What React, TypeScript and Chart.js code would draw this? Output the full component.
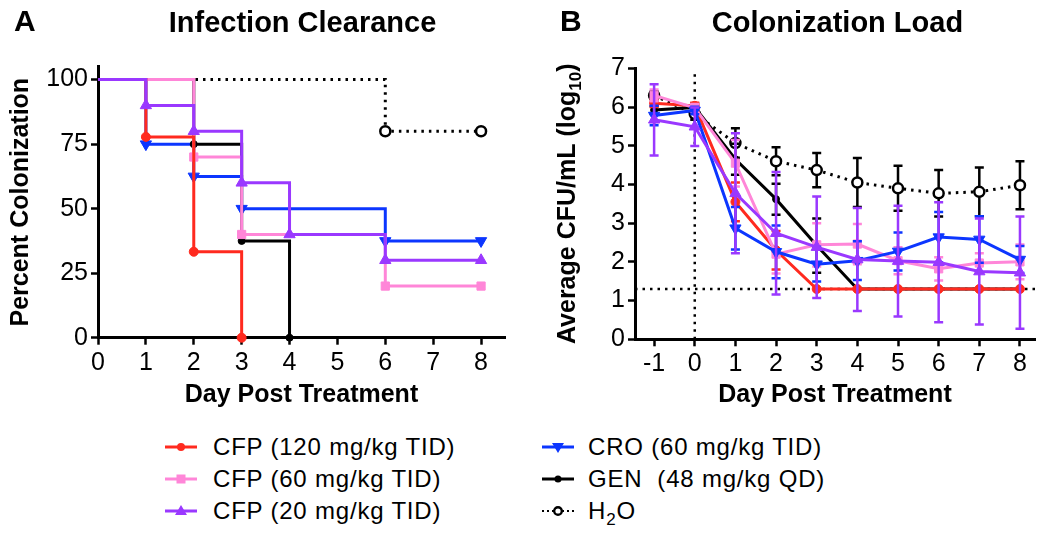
import React, { useEffect, useRef } from 'react';
import { Chart, registerables } from 'chart.js';

Chart.register(...registerables);

const FONT = "'Liberation Sans', Arial, Helvetica, sans-serif";

// ---------- Panel A : Infection Clearance (percent still colonized) ----------
const clearRedDays = [0, 1, 2, 3];
const clearRed = [100, 77.8, 33.3, 0];
const clearPinkDays = [0, 2, 3, 6, 8];
const clearPink = [100, 70, 40, 20, 20];
const clearPurpleDays = [0, 1, 2, 3, 4, 6, 8];
const clearPurple = [100, 90, 80, 60, 40, 30, 30];
const clearBlueDays = [0, 1, 2, 3, 6, 8];
const clearBlue = [100, 75, 62.5, 50, 37.5, 37.5];
const clearBlackDays = [0, 2, 3, 4];
const clearBlack = [100, 75, 37.5, 0];
const clearWaterDays = [0, 6, 8];
const clearWater = [100, 80, 80];
const ticksAX = [0, 1, 2, 3, 4, 5, 6, 7, 8];
const ticksAY = [0, 25, 50, 75, 100];

// ---------- Panel B : Colonization Load (log10 CFU/mL, mean ± SD) ----------
const loadDays = [-1, 0, 1, 2, 3, 4, 5, 6, 7, 8];
const loadRed = [6.1, 6.03, 3.55, 2.3, 1.3, 1.3, 1.3, 1.3, 1.3, 1.3];
const errRed = [0.1, 0.08, 0.5, 0.5, 0, 0, 0, 0, 0, 0];
const loadPink = [6.3, 5.98, 4.55, 2.2, 2.44, 2.46, 2.03, 1.82, 1.97, 2.0];
const errPink = [0.15, 0.1, 0.6, 0.5, 0.56, 0.52, 0.35, 0.3, 0.25, 0.45];
const loadPurple = [5.67, 5.49, 3.77, 2.74, 2.38, 2.06, 2.02, 1.99, 1.75, 1.72];
const errPurple = [0.92, 0.5, 1.55, 1.58, 1.31, 1.33, 1.43, 1.55, 1.37, 1.45];
const loadBlue = [5.78, 5.91, 2.87, 2.26, 1.94, 2.03, 2.27, 2.64, 2.58, 2.06];
const errBlue = [0.25, 0.1, 0.55, 0.68, 0.45, 0.5, 0.49, 0.65, 0.6, 0.35];
const loadBlack = [5.92, 5.99, 4.65, 3.62, 2.42, 1.3, 1.3, 1.3, 1.3, 1.3];
const errBlack = [0.1, 0.1, 0.4, 0.4, 0.7, 0, 0, 0, 0, 0];
const loadWater = [6.3, 5.82, 5.07, 4.6, 4.37, 4.05, 3.9, 3.77, 3.81, 3.98];
const errWater = [0.1, 0.15, 0.38, 0.36, 0.44, 0.63, 0.58, 0.6, 0.63, 0.62];
const detectionLimit = 1.3;
const treatmentStartDay = 0;
const ticksBX = [-1, 0, 1, 2, 3, 4, 5, 6, 7, 8];
const ticksBY = [0, 1, 2, 3, 4, 5, 6, 7];

const RED = '#ff2a1f';
const PINK = '#ff86d8';
const PURPLE = '#9a38ff';
const BLUE = '#0c36ff';
const BLACK = '#000000';

const labels = {
  red: 'CFP (120 mg/kg TID)',
  pink: 'CFP (60 mg/kg TID)',
  purple: 'CFP (20 mg/kg TID)',
  blue: 'CRO (60 mg/kg TID)',
  black: 'GEN  (48 mg/kg QD)',
  water: 'H2O',
};

const pts = (xs: number[], ys: number[]) => xs.map((x, i) => ({ x, y: ys[i] }));

type Style = { color: string; style: string; radius: number; rotation?: number; fill?: string; dash?: number[]; bw?: number };
const styles: Record<string, Style> = {
  red: { color: RED, style: 'circle', radius: 4.5 },
  pink: { color: PINK, style: 'rect', radius: 5.8 },
  purple: { color: PURPLE, style: 'triangle', radius: 6.5 },
  blue: { color: BLUE, style: 'triangle', radius: 6.5, rotation: 180 },
  black: { color: BLACK, style: 'circle', radius: 3.5 },
  water: { color: BLACK, style: 'circle', radius: 5, fill: '#ffffff', dash: [2.5, 5], bw: 2.5 },
};

function makeDataset(key: string, data: { x: number; y: number }[], extra: any = {}) {
  const s = styles[key];
  return {
    label: labels[key as keyof typeof labels],
    data,
    borderColor: s.color,
    backgroundColor: s.color,
    borderWidth: 3,
    borderDash: s.dash || [],
    pointStyle: s.style,
    pointRotation: s.rotation || 0,
    pointRadius: s.radius,
    pointBackgroundColor: s.fill || s.color,
    pointBorderColor: s.color,
    pointBorderWidth: s.bw || 1,
    tension: 0,
    clip: false,
    ...extra,
  };
}

function axis(min: number, max: number, ticks: number[], title: any, fit: (s: any) => void) {
  return {
    type: 'linear',
    min,
    max,
    afterBuildTicks: (s: any) => {
      s.ticks = ticks.map((v) => ({ value: v }));
    },
    afterFit: fit,
    border: { display: true, color: '#000', width: 3 },
    grid: {
      display: true,
      drawOnChartArea: false,
      drawTicks: true,
      tickLength: 7,
      tickWidth: 2.5,
      tickColor: '#000',
      color: '#000',
    },
    ticks: {
      color: '#000',
      font: { family: FONT, size: 25 },
      padding: 3,
      maxRotation: 0,
      autoSkip: false,
      callback: (v: any) => String(v),
    },
    title,
  };
}

const errorBarPlugin = {
  id: 'errorBars',
  beforeDatasetDraw(chart: any, args: any) {
    const ds = chart.data.datasets[args.index];
    const errs: number[] | undefined = ds.errors;
    if (!errs) return;
    const ctx = chart.ctx;
    const xs = chart.scales.x;
    const ys = chart.scales.y;
    ctx.save();
    ctx.strokeStyle = ds.borderColor;
    ctx.lineWidth = 2.5;
    ctx.setLineDash([]);
    ds.data.forEach((p: any, i: number) => {
      const e = errs[i];
      if (!e) return;
      const x = xs.getPixelForValue(p.x);
      const yt = ys.getPixelForValue(p.y + e);
      const yb = ys.getPixelForValue(p.y - e);
      ctx.beginPath();
      ctx.moveTo(x, yt);
      ctx.lineTo(x, yb);
      ctx.moveTo(x - 4.5, yt);
      ctx.lineTo(x + 4.5, yt);
      ctx.moveTo(x - 4.5, yb);
      ctx.lineTo(x + 4.5, yb);
      ctx.stroke();
    });
    ctx.restore();
  },
};

const yTitleBPlugin = {
  id: 'yTitleB',
  afterDraw(chart: any) {
    const ctx = chart.ctx;
    const area = chart.chartArea;
    const main = 'Average CFU/mL (log';
    const sub = '10';
    const end = ')';
    const f1 = `bold 25px ${FONT}`;
    const f2 = `bold 17px ${FONT}`;
    ctx.save();
    ctx.translate(49.5, (area.top + area.bottom) / 2);
    ctx.rotate(-Math.PI / 2);
    ctx.fillStyle = '#000';
    ctx.textBaseline = 'alphabetic';
    ctx.textAlign = 'left';
    ctx.font = f1;
    const w1 = ctx.measureText(main).width;
    const w3 = ctx.measureText(end).width;
    ctx.font = f2;
    const w2 = ctx.measureText(sub).width;
    const x0 = -(w1 + w2 + w3) / 2;
    ctx.font = f1;
    ctx.fillText(main, x0, 0);
    ctx.font = f2;
    ctx.fillText(sub, x0 + w1, 6);
    ctx.font = f1;
    ctx.fillText(end, x0 + w1 + w2, 0);
    ctx.restore();
  },
};

const baseOptions = {
  animation: false,
  responsive: false,
  devicePixelRatio: 1,
  events: [],
  plugins: { legend: { display: false }, tooltip: { enabled: false }, title: { display: false } },
};

function PanelA() {
  const ref = useRef<HTMLCanvasElement>(null);
  useEffect(() => {
    const noFirst = (n: number, r: number) => Array.from({ length: n }, (_, i) => (i === 0 ? 0 : r));
    const mk = (key: string, xs: number[], ys: number[]) =>
      makeDataset(key, pts(xs, ys), { stepped: true, pointRadius: noFirst(xs.length, styles[key].radius) });
    const chart = new Chart(ref.current as HTMLCanvasElement, {
      type: 'line',
      data: {
        datasets: [
          mk('purple', clearPurpleDays, clearPurple),
          mk('red', clearRedDays, clearRed),
          mk('pink', clearPinkDays, clearPink),
          mk('black', clearBlackDays, clearBlack),
          mk('blue', clearBlueDays, clearBlue),
          mk('water', clearWaterDays, clearWater),
        ] as any,
      },
      options: {
        ...baseOptions,
        layout: { padding: { top: 66.7, right: 20, bottom: 0, left: 0 } },
        scales: {
          x: axis(0, 8.5, ticksAX, {
            display: true,
            text: 'Day Post Treatment',
            color: '#000',
            font: { family: FONT, size: 25, weight: 'bold' },
            padding: { top: 0, bottom: 10 },
          }, (s: any) => { s.height = 420 - 337.7; }),
          y: axis(0, 105, ticksAY, {
            display: true,
            text: 'Percent Colonization',
            color: '#000',
            font: { family: FONT, size: 25, weight: 'bold' },
            padding: { top: 6, bottom: 0 },
          }, (s: any) => { s.width = 98; }),
        },
      } as any,
    });
    return () => chart.destroy();
  }, []);
  return <canvas ref={ref} width={525} height={420} style={{ position: 'absolute', left: 0, top: 0, width: 525, height: 420 }} />;
}

function PanelB() {
  const ref = useRef<HTMLCanvasElement>(null);
  useEffect(() => {
    const xMin = -1.47;
    const xMax = 8.37;
    const mk = (key: string, ys: number[], errs: number[]) => makeDataset(key, pts(loadDays, ys), { errors: errs });
    const refLine = (data: { x: number; y: number }[]) => ({
      data,
      borderColor: '#000',
      borderWidth: 2.5,
      borderDash: [2.5, 5],
      pointRadius: 0,
    });
    const chart = new Chart(ref.current as HTMLCanvasElement, {
      type: 'line',
      data: {
        datasets: [
          mk('purple', loadPurple, errPurple),
          mk('blue', loadBlue, errBlue),
          mk('pink', loadPink, errPink),
          mk('red', loadRed, errRed),
          mk('black', loadBlack, errBlack),
          mk('water', loadWater, errWater),
          refLine([{ x: xMin, y: detectionLimit }, { x: xMax, y: detectionLimit }]),
          refLine([{ x: treatmentStartDay, y: 0 }, { x: treatmentStartDay, y: 6.9 }]),
        ] as any,
      },
      options: {
        ...baseOptions,
        layout: { padding: { top: 68.3, right: 15, bottom: 0, left: 0 } },
        scales: {
          x: axis(xMin, xMax, ticksBX, {
            display: true,
            text: 'Day Post Treatment',
            color: '#000',
            font: { family: FONT, size: 25, weight: 'bold' },
            padding: { top: 0, bottom: 10 },
          }, (s: any) => { s.height = 420 - 339.3; }),
          y: axis(0, 7, ticksBY, { display: false }, (s: any) => { s.width = 110; }),
        },
      } as any,
      plugins: [errorBarPlugin, yTitleBPlugin],
    });
    return () => chart.destroy();
  }, []);
  return <canvas ref={ref} width={525} height={420} style={{ position: 'absolute', left: 525, top: 0, width: 525, height: 420 }} />;
}

function Marker({ kind }: { kind: string }) {
  const s = styles[kind];
  const c = s.color;
  let shape: any = null;
  if (kind === 'red') shape = <circle cx={16} cy={10} r={4} fill={c} />;
  if (kind === 'pink') shape = <rect x={11.5} y={5.5} width={9} height={9} fill={c} />;
  if (kind === 'purple') shape = <polygon points="16,4 22,14 10,14" fill={c} />;
  if (kind === 'blue') shape = <polygon points="10,6 22,6 16,16" fill={c} />;
  if (kind === 'black') shape = <circle cx={16} cy={10} r={3.5} fill={c} />;
  if (kind === 'water') shape = <circle cx={16} cy={10} r={3.8} fill="#fff" stroke="#000" strokeWidth={2.4} />;
  return (
    <svg width={32} height={20} style={{ position: 'absolute', left: 0, top: 0 }}>
      <line x1={0} y1={10} x2={32} y2={10} stroke={c} strokeWidth={kind === 'water' ? 2.2 : 3} strokeDasharray={kind === 'water' ? '2 3' : undefined} />
      {shape}
    </svg>
  );
}

const legendRows = [
  { key: 'red', col: 0, row: 0 },
  { key: 'pink', col: 0, row: 1 },
  { key: 'purple', col: 0, row: 2 },
  { key: 'blue', col: 1, row: 0 },
  { key: 'black', col: 1, row: 1 },
  { key: 'water', col: 1, row: 2 },
];
const rowCenters = [446.5, 478.5, 511];
const colMarkerX = [165, 541.5];
const colTextX = [213, 588];

function Legend() {
  return (
    <>
      {legendRows.map((it) => {
        const cy = rowCenters[it.row];
        const text =
          it.key === 'water' ? (
            <span>
              H<sub style={{ fontSize: 17, verticalAlign: 'baseline', position: 'relative', top: 6 }}>2</sub>O
            </span>
          ) : (
            <span style={{ whiteSpace: 'pre' }}>{labels[it.key as keyof typeof labels]}</span>
          );
        return (
          <React.Fragment key={it.key}>
            <div style={{ position: 'absolute', left: colMarkerX[it.col], top: cy - 10, width: 32, height: 20 }}>
              <Marker kind={it.key} />
            </div>
            <div
              style={{
                position: 'absolute',
                left: colTextX[it.col],
                top: cy - 13.7,
                font: `24px ${FONT}`,
                lineHeight: '28px',
                letterSpacing: '0.8px',
                color: '#000',
                whiteSpace: 'pre',
              }}
            >
              {text}
            </div>
          </React.Fragment>
        );
      })}
    </>
  );
}

export default function App() {
  const letter = { position: 'absolute' as const, font: `bold 30px ${FONT}`, lineHeight: '30px', color: '#000' };
  const title = { position: 'absolute' as const, font: `bold 29px ${FONT}`, lineHeight: '29px', color: '#000', textAlign: 'center' as const, width: 407 };
  return (
    <div style={{ position: 'fixed', left: 0, top: 0, width: 1050, height: 536, background: '#fff', overflow: 'hidden', fontFamily: FONT }}>
      <PanelA />
      <PanelB />
      <div style={{ ...letter, left: 14, top: 6.3 }}>A</div>
      <div style={{ ...title, left: 99, top: 7.75 }}>Infection Clearance</div>
      <div style={{ ...letter, left: 560, top: 6.3 }}>B</div>
      <div style={{ ...title, left: 634, top: 7.75 }}>Colonization Load</div>
      <Legend />
    </div>
  );
}
